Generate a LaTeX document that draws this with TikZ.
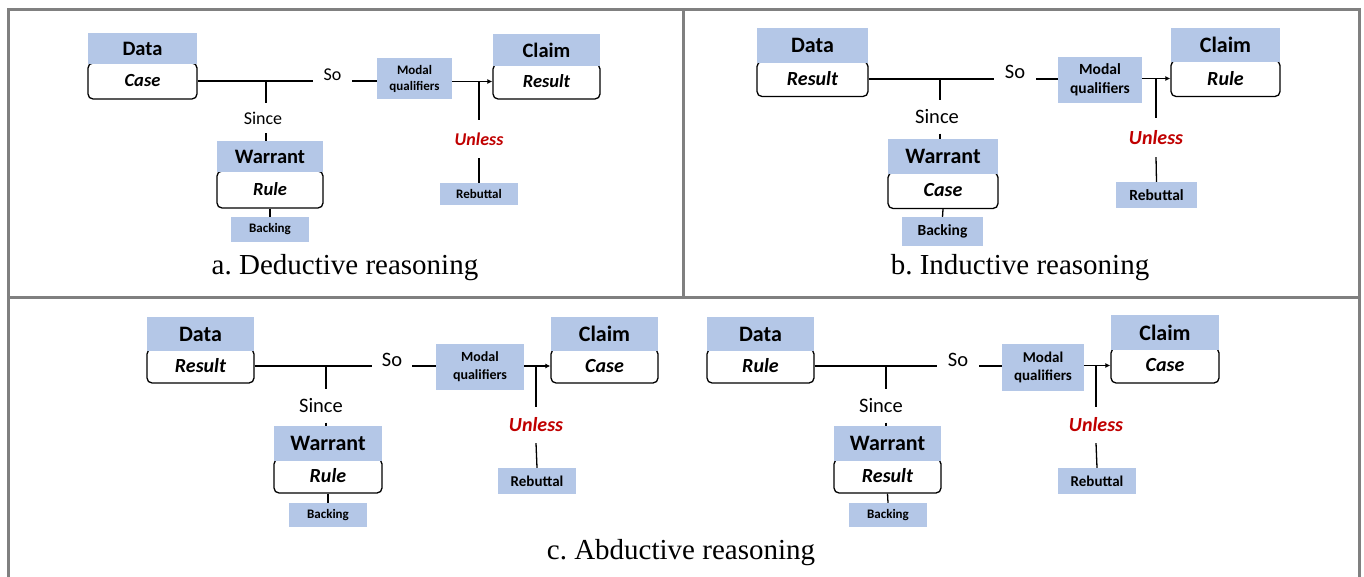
\documentclass[tikz,border=0pt]{standalone}
\usepackage{fontspec}
\setmainfont{Liberation Serif}
\newfontfamily\carl{Carlito}
\usetikzlibrary{arrows.meta}
\definecolor{hblue}{HTML}{B4C7E7}
\definecolor{ured}{HTML}{C00000}
\definecolor{frameg}{HTML}{808080}
\frenchspacing
\tikzset{
  hdr/.style={fill=hblue, inner sep=0pt, font=\carl\bfseries\fontsize{#1}{#1}\selectfont},
  cbox/.style={fill=white, draw=black, line width=1.3pt, rounded corners=5pt, inner sep=0pt, font=\carl\bfseries\itshape\fontsize{#1}{#1}\selectfont},
  smallbox/.style 2 args={fill=hblue, inner sep=0pt, align=center, font=\carl\bfseries\fontsize{#1}{#2}\selectfont},
  lbl/.style={inner sep=0pt, font=\carl\fontsize{#1}{#1}\selectfont},
  unl/.style={inner sep=0pt, text=ured, font=\carl\bfseries\itshape\fontsize{#1}{#1}\selectfont},
  conn/.style={line width=1.3pt, black},
  arr/.style={conn, -{Latex[length=5pt,width=5pt]}},
  captxt/.style={inner sep=0pt, font=\rmfamily\fontsize{29}{32}\selectfont},
  frm/.style={line width=3pt, frameg}
}
\begin{document}
\begin{tikzpicture}[x=1pt,y=-1pt]
\useasboundingbox (0,0) rectangle (1364,577);
\fill[white] (0,0) rectangle (1364,577);
% frame
\draw[frm] (8,579) -- (8,10) -- (1359,10) -- (1359,579);
\draw[frm] (683,10) -- (683,297);
\draw[frm] (8,297) -- (1359,297);

% ================= panel a =================
\node[cbox=18.5,minimum width=109pt,minimum height=36pt] (da) at (142.5,81) {Case};
\node[hdr=20.5,minimum width=109pt,minimum height=31pt] (dha) at (142.5,48.5) {Data};
\node[cbox=18.5,minimum width=107pt,minimum height=35pt] (ca) at (546.5,81.5) {Result};
\node[hdr=20.5,minimum width=107pt,minimum height=32pt] (cha) at (546.5,50) {Claim};
\node[smallbox={13}{16},minimum width=75pt,minimum height=41pt] (ma) at (414.5,78.5) {Modal\\qualifiers};
\node[lbl=18,minimum width=39pt] (soa) at (332.5,75) {So};
\node[lbl=18,minimum height=30pt] (sia) at (263,118) {Since};
\node[cbox=18.5,minimum width=106pt,minimum height=37pt] (wa) at (270,189.5) {Rule};
\node[hdr=20.5,minimum width=106pt,minimum height=31pt] (wha) at (270,156.5) {Warrant};
\node[smallbox={13}{15},minimum width=78pt,minimum height=25pt] (ba) at (270,229.5) {Backing};
\node[unl=18,minimum height=38pt] (ua) at (479,139) {Unless};
\node[smallbox={13}{15},minimum width=78pt,minimum height=22pt] (ra) at (479,194) {Rebuttal};
\node[captxt] (capa) at (345,268) {a. Deductive reasoning};
\draw[conn] (da.east) -- (da.east -| soa.west);
\draw[conn] (da.east -| soa.east) -- (da.east -| ma.west);
\draw[arr] (ca.west -| ma.east) -- (ca.west);
\draw[conn] ([xshift=3pt]sia.north |- da.east) -- ([xshift=3pt]sia.north);
\draw[conn] ([xshift=3pt]sia.south) -- ([xshift=3pt]wha.north -| sia.south);
\draw[conn] (wa.south) -- (ba.north);
\draw[conn] (ua.north |- ca.west) -- (ua.north);
\draw[conn] (ua.south) -- (ra.north);

% ================= panel b =================
\node[cbox=20,minimum width=111pt,minimum height=35pt] (db) at (812.5,79) {Result};
\node[hdr=22,minimum width=111pt,minimum height=35pt] (dhb) at (812.5,45.5) {Data};
\node[cbox=20,minimum width=109pt,minimum height=36pt] (cb) at (1225.5,78.5) {Rule};
\node[hdr=22,minimum width=109pt,minimum height=34pt] (chb) at (1225.5,45) {Claim};
\node[smallbox={15.5}{19},minimum width=84pt,minimum height=46pt] (mb) at (1100,80) {Modal\\qualifiers};
\node[lbl=20.5,minimum width=42pt] (sob) at (1015,72) {So};
\node[lbl=20.5,minimum height=33pt] (sib) at (937,117) {Since};
\node[cbox=20,minimum width=110pt,minimum height=36pt] (wb) at (943,190.5) {Case};
\node[hdr=22,minimum width=110pt,minimum height=35pt] (whb) at (943,156.5) {Warrant};
\node[smallbox={15.5}{18},minimum width=81pt,minimum height=29pt] (bb) at (942.5,231.5) {Backing};
\node[unl=20,minimum height=39pt] (ub) at (1156,137.5) {Unless};
\node[smallbox={15.5}{18},minimum width=81pt,minimum height=26pt] (rb) at (1156.5,195) {Rebuttal};
\node[captxt] (capb) at (1020,268) {b. Inductive reasoning};
\draw[conn] (db.east) -- (db.east -| sob.west);
\draw[conn] (db.east -| sob.east) -- (db.east -| mb.west);
\draw[arr] (cb.west -| mb.east) -- (cb.west);
\draw[conn] ([xshift=3pt]sib.north |- db.east) -- ([xshift=3pt]sib.north);
\draw[conn] ([xshift=3pt]sib.south) -- ([xshift=3pt]whb.north -| sib.south);
\draw[conn] (wb.south) -- (bb.north);
\draw[conn] (ub.north |- cb.west) -- (ub.north);
\draw[conn] (ub.south) -- (rb.north);

% ================= panel c left =================
\node[cbox=20,minimum width=107pt,minimum height=34pt] (dc) at (200.5,366) {Result};
\node[hdr=22,minimum width=107pt,minimum height=34pt] (dhc) at (200.5,334) {Data};
\node[cbox=20,minimum width=107pt,minimum height=34pt] (cc) at (604.5,366) {Case};
\node[hdr=22,minimum width=107pt,minimum height=34pt] (chc) at (604.5,334) {Claim};
\node[smallbox={14}{18},minimum width=88pt,minimum height=46pt] (mc) at (480,367) {Modal\\qualifiers};
\node[lbl=20.5,minimum width=40pt] (soc) at (392,360) {So};
\node[lbl=20.5,minimum height=33pt] (sic) at (321,406) {Since};
\node[cbox=20,minimum width=108pt,minimum height=34pt] (wc) at (328,476) {Rule};
\node[hdr=22,minimum width=108pt,minimum height=35pt] (whc) at (328,443.5) {Warrant};
\node[smallbox={13}{15},minimum width=78pt,minimum height=24pt] (bc) at (328,515) {Backing};
\node[unl=20,minimum height=36pt] (uc) at (536,425) {Unless};
\node[smallbox={15}{18},minimum width=78pt,minimum height=26pt] (rc) at (537,481) {Rebuttal};

% ================= panel c right =================
\node[cbox=20,minimum width=107pt,minimum height=34pt] (dd) at (760.5,366) {Rule};
\node[hdr=22,minimum width=107pt,minimum height=34pt] (dhd) at (760.5,334) {Data};
\node[cbox=20,minimum width=108pt,minimum height=35pt] (cd) at (1165,365.5) {Case};
\node[hdr=22,minimum width=108pt,minimum height=35pt] (chd) at (1165,332.5) {Claim};
\node[smallbox={15}{18},minimum width=82pt,minimum height=47pt] (md) at (1043,367.5) {Modal\\qualifiers};
\node[lbl=20.5,minimum width=42pt] (sod) at (958,360) {So};
\node[lbl=20.5,minimum height=33pt] (sid) at (881,406) {Since};
\node[cbox=20,minimum width=107pt,minimum height=34pt] (wd) at (887.5,476) {Result};
\node[hdr=22,minimum width=107pt,minimum height=35pt] (whd) at (887.5,443.5) {Warrant};
\node[smallbox={13}{15},minimum width=78pt,minimum height=24pt] (bd) at (888,515) {Backing};
\node[unl=20,minimum height=36pt] (ud) at (1096,425) {Unless};
\node[smallbox={15}{18},minimum width=78pt,minimum height=26pt] (rd) at (1097,481) {Rebuttal};
\node[captxt] (capc) at (681,553) {c. Abductive reasoning};

\foreach \d/\c/\m/\s/\si/\wh/\w/\b/\u/\r in {dc/cc/mc/soc/sic/whc/wc/bc/uc/rc, dd/cd/md/sod/sid/whd/wd/bd/ud/rd}{
  \draw[conn] (\d.east) -- (\d.east -| \s.west);
  \draw[conn] (\d.east -| \s.east) -- (\d.east -| \m.west);
  \draw[arr] (\c.west -| \m.east) -- (\c.west);
  \draw[conn] ([xshift=5pt]\si.north |- \d.east) -- ([xshift=5pt]\si.north);
  \draw[conn] ([xshift=5pt]\si.south) -- ([xshift=5pt]\wh.north -| \si.south);
  \draw[conn] (\w.south) -- (\b.north);
  \draw[conn] (\u.north |- \c.west) -- (\u.north);
  \draw[conn] (\u.south) -- (\r.north);
}
\end{tikzpicture}
\end{document}
